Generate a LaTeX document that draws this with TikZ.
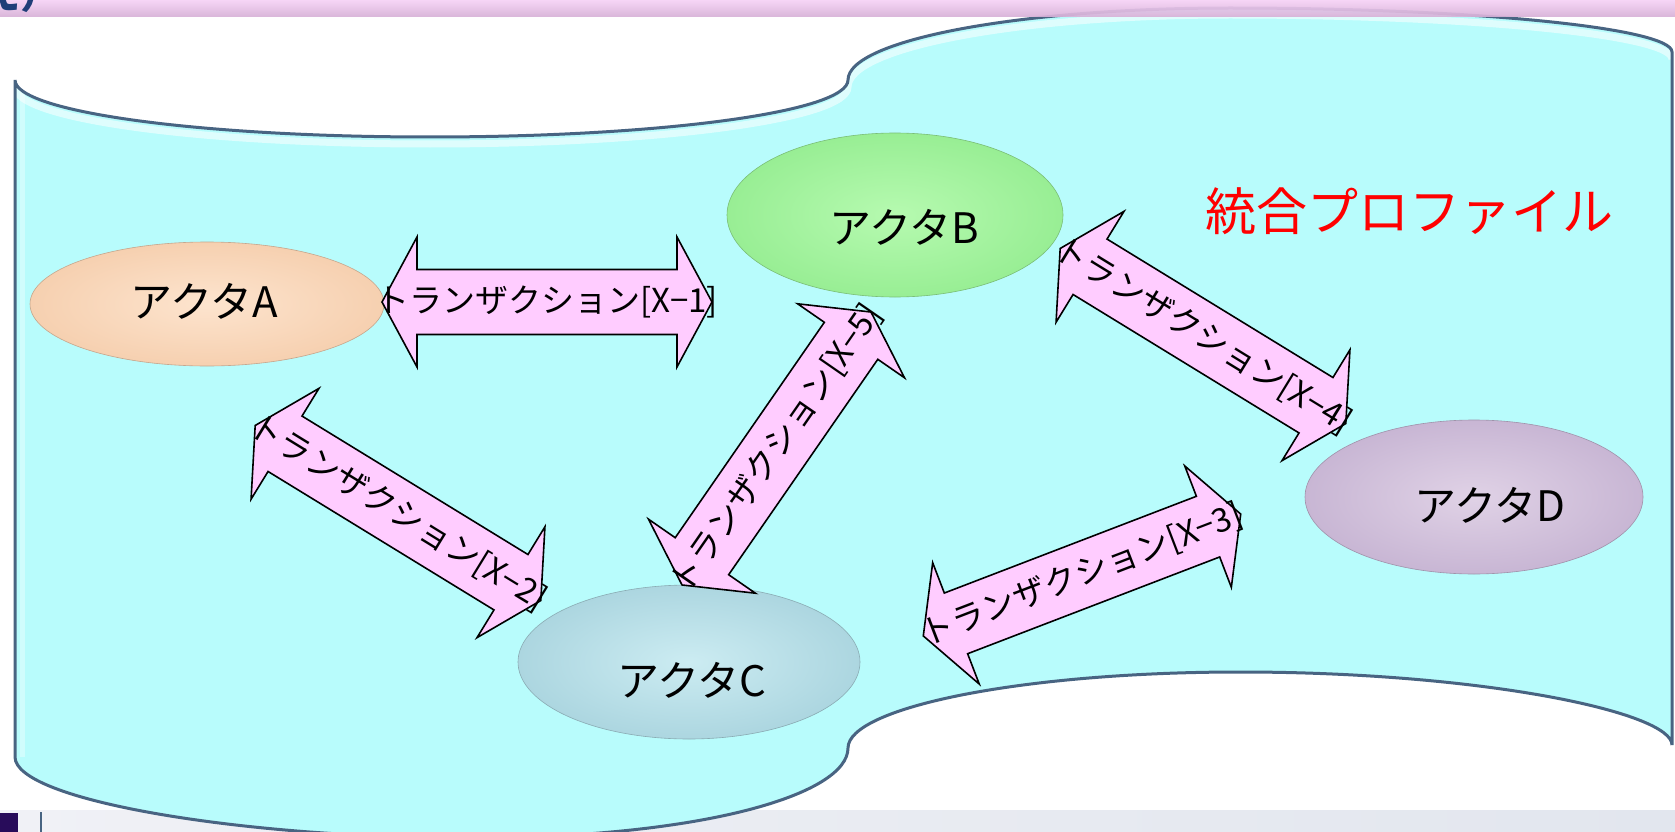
\documentclass[tikz,border=0pt]{standalone}
\usepackage{fontspec}
\setmainfont{Noto Sans CJK JP}
\usetikzlibrary{shapes.geometric}
\definecolor{tapefill}{RGB}{184,252,252}
\definecolor{tapeedge}{RGB}{72,100,130}
\definecolor{arrowpink}{RGB}{255,204,255}
\definecolor{stripA}{RGB}{246,210,246}
\definecolor{stripB}{RGB}{214,176,214}
\definecolor{titleblue}{RGB}{32,62,120}
\definecolor{footL}{RGB}{240,241,246}
\definecolor{footM}{RGB}{196,210,228}
\definecolor{footR}{RGB}{226,230,238}
\definecolor{logopurple}{RGB}{40,12,90}
\definecolor{peachL}{RGB}{253,228,206}
\definecolor{peachD}{RGB}{246,208,176}
\definecolor{greenL}{RGB}{182,250,176}
\definecolor{greenD}{RGB}{152,238,148}
\definecolor{blueL}{RGB}{204,236,242}
\definecolor{blueD}{RGB}{172,214,224}
\definecolor{lilacL}{RGB}{224,210,230}
\definecolor{lilacD}{RGB}{200,182,212}
\newcommand\tapepath{(15,80) .. controls (15,112) and (200,137) .. (430,137) .. controls (660,137) and (848,112) .. (848,80) .. controls (848,40) and (1020,8) .. (1230,8) .. controls (1473,8) and (1672,28) .. (1672,52) -- (1672,745) .. controls (1672,712) and (1480,672) .. (1240,672) .. controls (1020,672) and (848,708) .. (848,748) .. controls (848,795) and (700,838) .. (470,838) .. controls (240,838) and (15,800) .. (15,757) -- cycle}
\newcommand\topedgepath{(15,80) .. controls (15,112) and (200,137) .. (430,137) .. controls (660,137) and (848,112) .. (848,80) .. controls (848,40) and (1020,8) .. (1230,8) .. controls (1473,8) and (1672,28) .. (1672,52)}
\newcommand\blockarrow[5]{%
  \begin{scope}[shift={#2}, rotate=#3]
    \draw[arrowbody] (-#4/2,0) -- (-#4/2+35,65) -- (-#4/2+35,32.5) -- (#4/2-35,32.5) -- (#4/2-35,65) -- (#4/2,0) -- (#4/2-35,-65) -- (#4/2-35,-32.5) -- (-#4/2+35,-32.5) -- (-#4/2+35,-65) -- cycle;
    \node[arrowlabel, transform shape] (#1) at (0,0) {#5};
  \end{scope}}
\begin{document}
\begin{tikzpicture}[x=1pt,y=-1pt,
  arrowbody/.style={draw=black, line width=1.6pt, fill=arrowpink, line join=miter},
  arrowlabel/.style={inner sep=0pt, font=\fontsize{33}{35}\selectfont},
  actor/.style={ellipse, inner sep=0pt, draw=#1, line width=0.6pt},
  actortext/.style={inner sep=0pt, font=\fontsize{42}{44}\selectfont}]
\useasboundingbox (0,0) rectangle (1675,832);
\fill[white] (0,0) rectangle (1675,832);
% footer strip
\shade[left color=footL, middle color=footM, right color=footR] (0,810) rectangle (1675,832);
\fill[logopurple] (0,813) rectangle (18,832);
\draw[tapeedge, line width=1.5pt] (41,812) -- (41,832);
% main tape shape
\fill[tapefill] \tapepath;
\begin{scope}
  \clip \tapepath;
  \draw[white, line width=7pt, opacity=0.55, yshift=-7pt] \topedgepath;
  \draw[white, line width=5pt, opacity=0.35, xshift=7pt] (15,80) -- (15,757);
\end{scope}
\draw[tapeedge, line width=3pt] \tapepath;
% header strip
\shade[top color=stripA, bottom color=stripB, opacity=0.92] (0,0) rectangle (1675,17);
\node[anchor=base west, inner sep=0pt, text=titleblue, font=\fontsize{40}{40}\bfseries\selectfont] (title) at (-20,9) {え）};
% actors
\node[actor=peachD!80!black, minimum width=354pt, minimum height=124pt, inner color=peachL, outer color=peachD] (A) at (207,304) {};
\node[actor=greenD!80!black, minimum width=336pt, minimum height=164pt, inner color=greenL, outer color=greenD] (B) at (895,215) {};
\node[actor=blueD!80!black, minimum width=342pt, minimum height=154pt, inner color=blueL, outer color=blueD] (C) at (689,662) {};
\node[actor=lilacD!80!black, minimum width=338pt, minimum height=154pt, inner color=lilacL, outer color=lilacD] (D) at (1474,497) {};
\node[actortext] (Atext) at (204,301) {アクタA};
\node[actortext] (Btext) at (904,227) {アクタB};
\node[actortext] (Ctext) at (692,680) {アクタC};
\node[actortext] (Dtext) at (1490,505) {アクタD};
% title of profile
\node[inner sep=0pt, text=red, font=\fontsize{51}{53}\selectfont] (profile) at (1409,211) {統合プロファイル};
% transactions
\blockarrow{t1}{(547,302)}{0}{330}{トランザクション[X−1]}
\blockarrow{t2}{(398,513)}{-31.5}{335}{トランザクション[X−2]}
\blockarrow{t3}{(1082,575)}{21}{340}{トランザクション[X−3]}
\blockarrow{t4}{(1203,336)}{-31.5}{335}{トランザクション[X−4]}
\blockarrow{t5}{(776.5,448.5)}{55.3}{332}{トランザクション[X−5]}
\end{tikzpicture}
\end{document}
